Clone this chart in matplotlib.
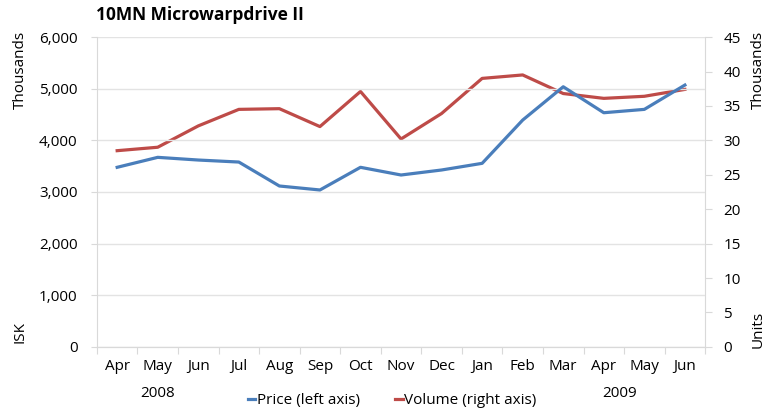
import numpy as np
from matplotlib import pyplot as plt

months = ["Apr", "May", "Jun", "Jul", "Aug", "Sep", "Oct", "Nov",
          "Dec", "Jan", "Feb", "Mar", "Apr", "May", "Jun"]
years = ["2008", "2009"]
price = [3478, 3671, 3619, 3580, 3116, 3039, 3478, 3329,
         3426, 3555, 4393, 5038, 4535, 4600, 5071]
volume = [28.5, 29.0, 32.1, 34.5, 34.6, 32.0, 37.1, 30.2,
          33.9, 39.0, 39.5, 36.8, 36.1, 36.4, 37.4]

plt.rcParams['font.family'] = ['Open Sans', 'DejaVu Sans']
blue = "#4a7ebb"
red = "#be4b48"
grey = "#d9d9d9"
fs = 11

fig = plt.figure(figsize=(7.69, 4.12), dpi=100)
ax = fig.add_axes([0.126, 0.158, 0.791, 0.752])
ax2 = ax.twinx()

x = np.arange(len(months))
l1, = ax.plot(x, price, color=blue, lw=2.3, label="Price (left axis)")
l2, = ax2.plot(x, volume, color=red, lw=2.3, label="Volume (right axis)")
ax.set_zorder(ax2.get_zorder() + 1)
ax.patch.set_visible(False)

ax.set_xlim(-0.5, len(months) - 0.5)
ax.set_ylim(0, 6000)
ax2.set_ylim(0, 45)
ax.set_yticks(np.arange(0, 6001, 1000))
ax.set_yticklabels([f"{v:,}" for v in range(0, 6001, 1000)])
ax2.set_yticks(np.arange(0, 46, 5))

ax.set_xticks(np.arange(-0.5, len(months), 1.0))
ax.set_xticklabels([])
ax.set_xticks(x, minor=True)
ax.set_xticklabels(months, minor=True)
ax.tick_params(axis='x', which='major', length=5, color=grey)
ax.tick_params(axis='x', which='minor', length=0, pad=9, labelsize=fs)
ax.tick_params(axis='y', length=4, color=grey, pad=10, labelsize=fs)
ax2.tick_params(axis='y', length=5, color=grey, pad=8, labelsize=fs)

ax.grid(axis='y', color="#e3e3e3", lw=1)
ax.set_axisbelow(True)
for a in (ax, ax2):
    for s in a.spines.values():
        s.set_visible(False)
    a.spines['left'].set_visible(True)
    a.spines['left'].set_color(grey)
    a.spines['bottom'].set_visible(True)
    a.spines['bottom'].set_color(grey)
ax2.spines['left'].set_visible(False)
ax2.spines['right'].set_visible(True)
ax2.spines['right'].set_color(grey)

ax.text(1, -0.152, years[0], transform=ax.get_xaxis_transform(),
        ha='center', va='center', fontsize=fs)
ax.text(12.4, -0.152, years[1], transform=ax.get_xaxis_transform(),
        ha='center', va='center', fontsize=fs)

fig.text(0.125, 0.963, "10MN Microwarpdrive II", fontsize=12.5,
         fontweight='bold', ha='left', va='center')
fig.text(0.026, 0.83, "Thousands", rotation=90, ha='center', va='center', fontsize=fs)
fig.text(0.026, 0.195, "ISK", rotation=90, ha='center', va='center', fontsize=fs)
fig.text(0.986, 0.83, "Thousands", rotation=90, ha='center', va='center', fontsize=fs)
fig.text(0.986, 0.2, "Units", rotation=90, ha='center', va='center', fontsize=fs)

fig.legend(handles=[l1, l2], loc='center', bbox_to_anchor=(0.51, 0.027),
           ncol=2, frameon=False, handlelength=0.5, handletextpad=0.1,
           columnspacing=2.3, fontsize=fs)

fig.savefig("out.png", dpi=100)
